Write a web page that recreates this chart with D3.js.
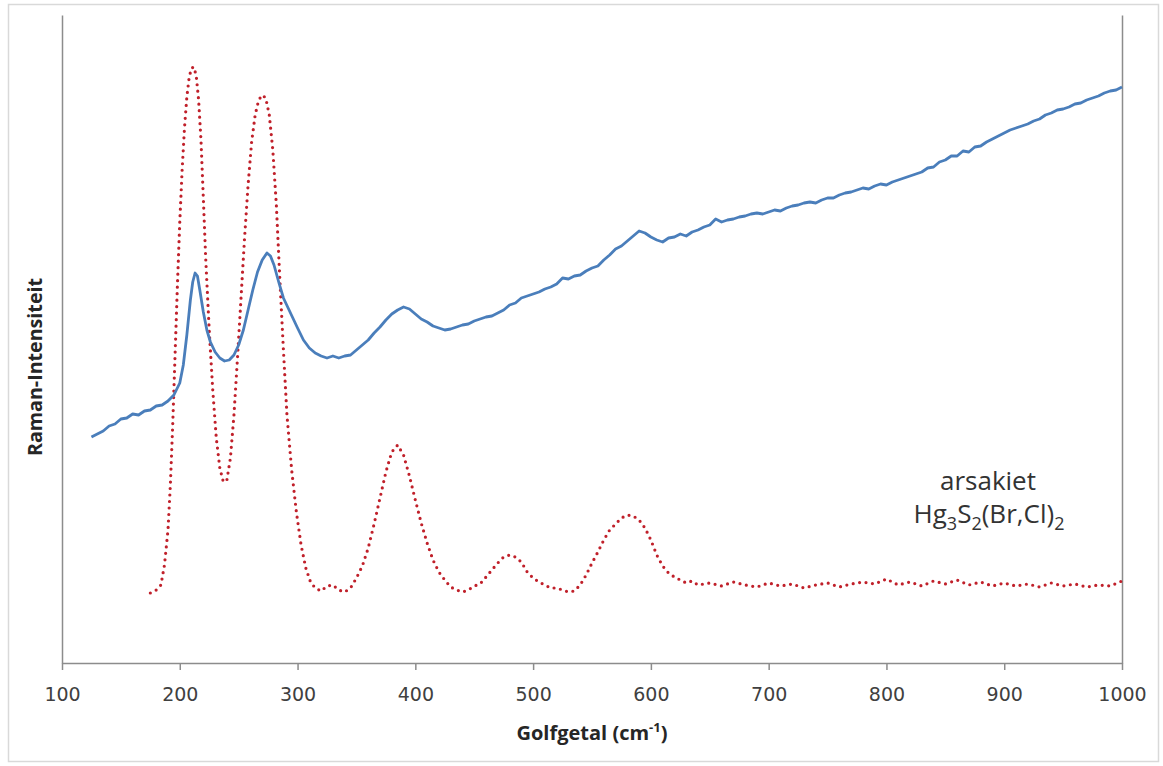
<!DOCTYPE html>
<html><head><meta charset="utf-8">
<script src="https://cdn.jsdelivr.net/npm/d3@7"></script>
<style>body{margin:0;background:#fff}svg{display:block}</style>
</head><body>
<svg id="c" width="1163" height="766"></svg>
<script>
const xTicks = [100,200,300,400,500,600,700,800,900,1000];

const waveBlue = [125,130,135,140,145,150,155,160,165,170,175,180,185,190,195,200,203,206,209,211,213,215,217,220,223,226,230,234,238,242,246,250,254,258,262,266,270,274,277,280,284,288,292,296,300,305,310,315,320,325,330,335,340,345,350,355,360,365,370,375,380,385,390,395,400,405,410,415,420,425,430,435,440,445,450,455,460,465,470,475,480,485,490,495,500,505,510,515,520,525,530,535,540,545,550,555,560,565,570,575,580,585,590,595,600,605,610,615,620,625,630,635,640,645,650,655,660,665,670,675,680,685,690,695,700,705,710,715,720,725,730,735,740,745,750,755,760,765,770,775,780,785,790,795,800,805,810,815,820,825,830,835,840,845,850,855,860,865,870,875,880,885,890,895,900,905,910,915,920,925,930,935,940,945,950,955,960,965,970,975,980,985,990,995,1000];
const intensityBlue = [226,229,232,237,239,244,245,249,248,252,253,257,258,262,268,280,298,328,363,381,390,387,373,351,333,321,311,305,302,303,308,318,333,353,373,391,403,410,407,398,381,365,355,345,335,323,315,310,307,305,307,305,307,308,313,318,323,330,336,343,349,353,356,354,349,344,341,337,335,333,334,336,338,339,342,344,346,347,350,353,358,360,365,367,369,371,374,376,379,385,384,387,388,392,395,397,403,408,414,417,422,427,432,430,426,423,421,425,426,429,427,431,433,436,438,444,441,443,444,446,447,449,450,449,451,453,452,455,457,458,460,461,460,463,465,465,468,470,471,473,475,474,477,479,478,481,483,485,487,489,491,495,496,501,503,507,507,512,511,516,517,521,524,527,530,533,535,537,539,542,544,548,550,553,554,556,559,560,563,565,567,570,572,573,576];

const waveRed = [175,180,184,187,190,192,194,196,198,200,202,204,206,208,210,212,214,216,218,220,222,225,228,231,234,237,240,243,246,249,252,255,258,261,264,267,270,273,276,279,282,285,288,291,295,299,303,307,311,315,320,325,330,335,340,345,350,355,360,365,370,375,380,385,390,395,400,405,410,415,420,425,430,435,440,445,450,455,460,465,470,475,480,485,490,495,500,505,510,515,520,525,530,535,540,545,550,555,560,565,570,575,580,585,590,595,600,605,610,615,620,625,630,635,640,650,660,670,680,690,700,710,720,730,740,750,760,770,780,790,800,810,820,830,840,850,860,870,880,890,900,910,920,930,940,950,960,970,980,990,1000];
const intensityRed = [70,73,78,98,133,178,238,308,378,441,493,535,566,586,595,596,587,563,523,465,405,333,273,225,195,181,183,205,248,305,365,425,478,521,548,563,568,565,548,513,458,383,313,248,193,151,118,95,81,75,72,77,78,73,71,75,85,97,115,139,165,191,211,218,208,187,163,140,120,103,91,83,76,73,71,73,77,79,86,93,100,106,108,106,101,91,85,81,78,75,75,73,71,72,78,88,100,111,123,133,139,145,148,147,143,135,123,108,97,90,86,83,80,82,78,80,77,81,78,76,80,77,79,75,78,80,76,79,81,79,84,78,81,77,82,79,83,78,81,77,80,77,79,76,80,77,79,76,78,77,82];

const svg = d3.select("#c");
svg.append("rect").attr("x",8.5).attr("y",4.5).attr("width",1150).attr("height",757)
  .attr("fill","#fff").attr("stroke","#d9d9d9").attr("stroke-width",1.5);

const x = d3.scaleLinear().domain([100,1000]).range([62,1122]);
const y = d3.scaleLinear().domain([0,648]).range([663,15]);
const axisColor = "#8c8c8c";

const gx = svg.append("g").attr("transform","translate(0,663)")
  .call(d3.axisBottom(x).tickValues(xTicks).tickFormat(d3.format("d")).tickSizeInner(7).tickSizeOuter(0).tickPadding(18));
gx.select(".domain").attr("stroke",axisColor).attr("stroke-width",1.5);
gx.selectAll(".tick line").attr("stroke",axisColor).attr("stroke-width",1.5);
gx.selectAll(".tick text").attr("font-family","DejaVu Sans, Verdana, sans-serif").attr("font-size",19).attr("fill","#404040");

const gy = svg.append("g").attr("transform","translate(62,0)")
  .call(d3.axisLeft(y).tickValues([]).tickSizeOuter(0));
gy.select(".domain").attr("stroke",axisColor).attr("stroke-width",1.5);
const gr = svg.append("g").attr("transform","translate(1122,0)")
  .call(d3.axisRight(y).tickValues([]).tickSizeOuter(0));
gr.select(".domain").attr("stroke",axisColor).attr("stroke-width",1.5);

const line = d3.line().x(d=>x(d[0])).y(d=>y(d[1]));
svg.append("path").datum(waveRed.map((w,i)=>[w,intensityRed[i]]))
  .attr("d",line).attr("fill","none").attr("stroke","#c0202a").attr("stroke-width",3.2)
  .attr("stroke-linecap","round").attr("stroke-dasharray","0 6.5");
svg.append("path").datum(waveBlue.map((w,i)=>[w,intensityBlue[i]]))
  .attr("d",line).attr("fill","none").attr("stroke","#4a7ebb").attr("stroke-width",2.8)
  .attr("stroke-linejoin","round");

svg.append("text").attr("x",592).attr("y",740).attr("text-anchor","middle")
  .attr("font-family","Open Sans, sans-serif").attr("font-weight","bold").attr("font-size",20).attr("fill","#262626")
  .html('Golfgetal (cm<tspan dy="-8" font-size="13">-1</tspan><tspan dy="8">)</tspan>');
svg.append("text").attr("transform","translate(42,367) rotate(-90)").attr("text-anchor","middle")
  .attr("font-family","Open Sans, sans-serif").attr("font-weight","bold").attr("font-size",20).attr("fill","#262626")
  .attr("textLength",178).attr("lengthAdjust","spacingAndGlyphs")
  .text("Raman-Intensiteit");

svg.append("text").attr("x",988).attr("y",490).attr("text-anchor","middle")
  .attr("font-family","Open Sans, sans-serif").attr("font-size",26).attr("fill","#333")
  .text("arsakiet");
svg.append("text").attr("x",989).attr("y",523).attr("text-anchor","middle")
  .attr("font-family","Open Sans, sans-serif").attr("font-size",26).attr("fill","#333")
  .html('Hg<tspan dy="7" font-size="18">3</tspan><tspan dy="-7">S</tspan><tspan dy="7" font-size="18">2</tspan><tspan dy="-7">(Br,Cl)</tspan><tspan dy="7" font-size="18">2</tspan>');
</script>
</body></html>
